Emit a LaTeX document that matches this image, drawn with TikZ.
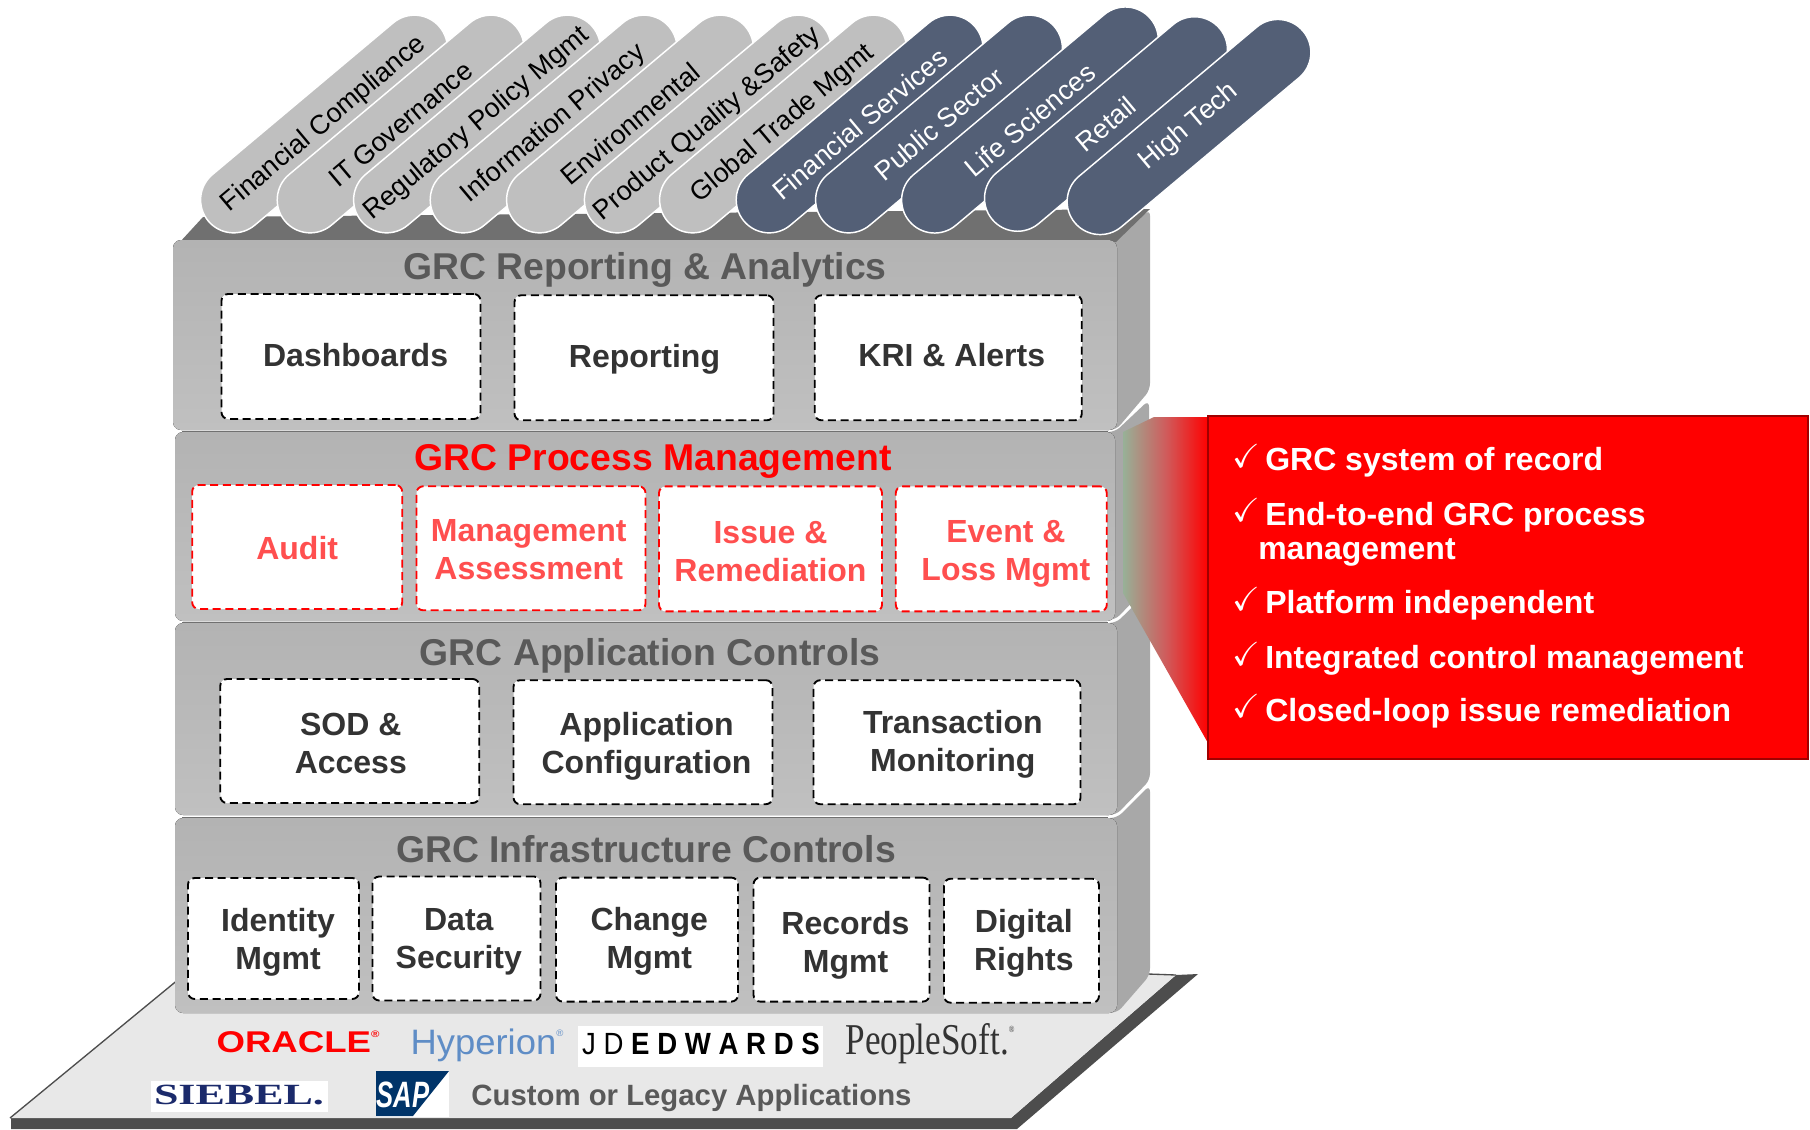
\documentclass[tikz,border=0pt]{standalone}
\usepackage{fontspec}
\usepackage{amssymb}
\setmainfont{Liberation Sans}
\newfontfamily\serifface{Liberation Serif}
\usetikzlibrary{shapes.misc}
\definecolor{tabgray}{HTML}{BFBFBF}
\definecolor{tabblue}{HTML}{535F76}
\definecolor{slabfront}{HTML}{B3B3B3}
\definecolor{slablow}{HTML}{C0C0C0}
\definecolor{slabside}{HTML}{A8A8A8}
\definecolor{slabtop}{HTML}{707070}
\definecolor{titlegray}{HTML}{595959}
\definecolor{boxtext}{HTML}{333333}
\definecolor{redtext}{HTML}{FF4F4F}
\definecolor{floorgray}{HTML}{E8E8E8}
\definecolor{floordark}{HTML}{4D4D4D}
\definecolor{calloutedge}{HTML}{A00000}
\definecolor{navylogo}{HTML}{1B2A6B}
\definecolor{saplogo}{HTML}{003469}
\definecolor{hyperionblue}{HTML}{5F8DC6}
\newcommand{\regmark}{\raisebox{0.5em}{\fontsize{7}{7}\selectfont\textregistered}}
\tikzset{
	tabnode/.style={rounded rectangle,draw=white,line width=1.1pt,inner sep=0pt,minimum height=49.5pt,rotate=40,font=\fontsize{20.2}{24}\selectfont},
	graytab/.style={tabnode,fill=tabgray,text=black,minimum width=#1*0.75pt},
	bluetab/.style={tabnode,fill=tabblue,text=white,minimum width=#1*0.75pt},
	slabtitle/.style={font=\fontsize{28}{32}\selectfont\bfseries,text=titlegray,inner sep=0pt},
	panel/.style 2 args={rectangle,rounded corners=5pt,fill=white,draw=black,dash pattern={on 6pt off 3.5pt},line width=1.4pt,inner sep=0pt,minimum width=#1*0.75pt,minimum height=#2*0.75pt},
	redpanel/.style 2 args={panel={#1}{#2},draw=red},
	paneltext/.style={inner sep=0pt,align=center,text=boxtext,font=\fontsize{24}{28.5}\selectfont\bfseries},
	redtextnode/.style={paneltext,text=redtext},
	bullet/.style={anchor=base west,inner sep=0pt,text=white,font=\fontsize{24}{28.5}\selectfont\bfseries},
	tick/.style={anchor=base west,inner sep=0pt,text=white,font=\fontsize{25}{28}\selectfont},
	slabfill/.style={rounded corners=6pt,top color=slabfront,bottom color=slablow},
	slabwall/.style={rounded corners=5pt,fill=slabside},
	logo/.style={anchor=base,inner sep=0pt},
}
\begin{document}
\begin{tikzpicture}[x=0.75pt,y=0.75pt,yscale=-1,xscale=1]
	\useasboundingbox (0,0) rectangle (1810,1129);
	\fill [white] (0,0) rectangle (1810,1129);

	%Shape: floor
	\fill [floordark] (1176,975) -- (1198,974) -- (1017,1129) -- (11,1129) -- (11,1118) -- (1011,1118) -- cycle;
	\fill [floorgray] (10,1118) -- (185,974) -- (1176,975) -- (1011,1118) -- cycle;
	\draw [floordark,line width=1pt] (10,1118) -- (185,974);
	\draw [floordark,line width=1pt] (1120,973) -- (1176,975);

	%Shape: slab sides
	\fill [slabwall] (1100,1012) -- (1117,1013) -- (1150,975) -- (1150,785) -- (1117,818) -- (1100,818) -- cycle;
	\fill [slabwall] (1100,815) -- (1116,815) -- (1150,780) -- (1150,590) -- (1116,623) -- (1100,623) -- cycle;
	\fill [slabwall] (1100,620) -- (1115,620) -- (1149,585) -- (1149,400) -- (1115,432) -- (1100,432) -- cycle;
	\fill [slabwall] (1100,430) -- (1116,430) -- (1150,390) -- (1150,209) -- (1116,241) -- (1100,241) -- cycle;
	%Shape: slab top
	\fill [slabtop] (180,242) -- (203,217) -- (1150,209) -- (1116,242) -- cycle;

	%Shape: slab fronts
	\fill [slabfill] (173,240) rectangle (1117,430);
	\fill [slabfill] (175,432) rectangle (1115,621);
	\fill [slabfill] (175,623) rectangle (1117,815);
	\fill [slabfill] (175,818) rectangle (1117,1013);
	%Straight Lines: slab seams
	\draw [slabtop,line width=1pt] (182,431.5) -- (1108,431.5);
	\draw [slabtop,line width=1pt] (182,622.5) -- (1108,622.5);
	\draw [slabtop,line width=1pt] (182,817.5) -- (1108,817.5);

	%Shape: callout wedge
	\shade [left color=slabside!90!green,right color=red,middle color=red!45!slabside] (1123,432) -- (1154,417) -- (1208,417) -- (1208,743) -- (1123,593) -- cycle;
	%Shape: callout box
	\draw [calloutedge,fill=red,line width=1.5pt] (1208,416) rectangle (1808,759);

	% Tab Nodes
	\node (fincompliance) [graytab=302] at (324,124) {Financial Compliance};
	\node (itgov) [graytab=302] at (400.6,124) {IT Governance};
	\node (regpolicy) [graytab=302] at (477,124) {Regulatory Policy Mgmt};
	\node (infoprivacy) [graytab=302] at (553.6,124) {Information Privacy};
	\node (environmental) [graytab=302] at (630,124) {Environmental};
	\node (prodquality) [graytab=302] at (707.8,124) {Product Quality \&Safety};
	\node (globaltrade) [graytab=302] at (783,124) {Global Trade Mgmt};
	\node (finservices) [bluetab=302] at (859.6,124) {Financial Services};
	\node (publicsector) [bluetab=302] at (939,124) {Public Sector};
	\node (lifesciences) [bluetab=315] at (1030,120) {Life Sciences};
	\node (retail) [bluetab=297] at (1106,124) {Retail};
	\node (hightech) [bluetab=298] at (1189,127) {High Tech};

	% Slab Titles
	\node (reporttitle) [slabtitle] at (645,270) {GRC Reporting \& Analytics};
	\node (processtitle) [slabtitle,text=red] at (653,461.5) {GRC Process Management};
	\node (apptitle) [slabtitle] at (650,655.5) {GRC Application Controls};
	\node (infratitle) [slabtitle] at (646,849) {GRC Infrastructure Controls};

	% Panels
	\node (dashboards) [panel={259}{125}] at (351,356.5) {};
	\node (reporting) [panel={259}{125}] at (644,357.8) {};
	\node (kri) [panel={267}{125}] at (948.3,357.8) {};

	\node (audit) [redpanel={210}{124}] at (297.2,547) {};
	\node (mgmtassess) [redpanel={229}{124}] at (531,548.3) {};
	\node (issue) [redpanel={223}{125}] at (770.5,548.9) {};
	\node (event) [redpanel={211}{125}] at (1001.3,548.9) {};

	\node (sod) [panel={259}{124}] at (349.8,741) {};
	\node (appconfig) [panel={259}{124}] at (643,742.2) {};
	\node (transaction) [panel={267}{124}] at (947,742.2) {};

	\node (identity) [panel={171}{121}] at (273.5,938.5) {};
	\node (datasec) [panel={168}{124}] at (456.5,938.5) {};
	\node (change) [panel={182}{124}] at (647,939.6) {};
	\node (records) [panel={176}{124}] at (841.5,939.6) {};
	\node (digital) [panel={155}{124}] at (1021.5,940.7) {};

	% Text Node
	\node (dashboardstext) [paneltext] at (355.6,355.5) {Dashboards};
	\node (reportingtext) [paneltext] at (644.5,358.8) {Reporting};
	\node (kritext) [paneltext] at (951.8,355.5) {KRI \& Alerts};

	\node (audittext) [redtextnode] at (297.2,548) {Audit};
	\node (mgmtassesstext) [redtextnode] at (528.7,549.3) {Management\\Assessment};
	\node (issuetext) [redtextnode] at (770.5,551.2) {Issue \&\\Remediation};
	\node (eventtext) [redtextnode] at (1005.9,554) {Event \&\\Loss Mgmt};

	\node (sodtext) [paneltext] at (350.8,743.3) {SOD \&\\Access};
	\node (appconfigtext) [paneltext] at (646.5,746.5) {Application\\Configuration};
	\node (transactiontext) [paneltext] at (952.8,744) {Transaction\\Monitoring};

	\node (identitytext) [paneltext] at (278.1,942) {Identity\\Mgmt};
	\node (datasectext) [paneltext] at (458.8,941.3) {Data\\Security};
	\node (changetext) [paneltext] at (649.3,940.8) {Change\\Mgmt};
	\node (recordstext) [paneltext] at (845.5,945.4) {Records\\Mgmt};
	\node (digitaltext) [paneltext] at (1023.8,943.2) {Digital\\Rights};

	% Callout Text
	\node (tick1) [tick] at (1232,467) {$\checkmark$};
	\node (item1) [bullet] at (1265,470.5) {GRC system of record};
	\node (tick2) [tick] at (1232,521) {$\checkmark$};
	\node (item2) [bullet] at (1265,525) {End-to-end GRC process};
	\node (item2b) [bullet] at (1258,559) {management};
	\node (tick3) [tick] at (1232,610) {$\checkmark$};
	\node (item3) [bullet] at (1265,613) {Platform independent};
	\node (tick4) [tick] at (1232,665) {$\checkmark$};
	\node (item4) [bullet] at (1265,668) {Integrated control management};
	\node (tick5) [tick] at (1232,717) {$\checkmark$};
	\node (item5) [bullet] at (1265,721) {Closed-loop issue remediation};

	% Logos
	\node (oracle) [logo,text=red,xscale=1.22,font=\fontsize{22.5}{26}\selectfont\bfseries] at (298,1052) {ORACLE\regmark};
	\node (hyperion) [logo,text=hyperionblue,xscale=1.03,font=\fontsize{26.5}{30}\selectfont] at (487,1054) {Hyperion\regmark};
	\fill [white] (578,1026) rectangle (823,1067);
	\node (jdedwards) [logo,text=black,xscale=0.9,font=\fontsize{23}{26}\selectfont] at (701,1054) {J D \textbf{E D W A R D S}};
	\node (peoplesoft) [logo,text=black!80,xscale=0.8,font=\fontsize{33}{36}\serifface\selectfont] at (930,1054) {PeopleSoft.\regmark};
	\fill [white] (151,1081) rectangle (328,1112);
	\node (siebel) [logo,text=navylogo,xscale=1.5,font=\fontsize{22}{24}\serifface\bfseries\selectfont] at (239,1104) {SIEBEL.};
	\fill [white] (376,1071) rectangle (449,1117);
	\fill [saplogo] (376,1071) -- (449,1071) -- (413,1116) -- (376,1116) -- cycle;
	\node (sap) [logo,text=white,xscale=0.7,font=\fontsize{27.5}{30}\selectfont\bfseries\itshape] at (403,1107) {SAP};
	\node (custom) [inner sep=0pt,text=titlegray,font=\fontsize{22}{26}\selectfont\bfseries] at (691.5,1098) {Custom or Legacy Applications};
\end{tikzpicture}
\end{document}
